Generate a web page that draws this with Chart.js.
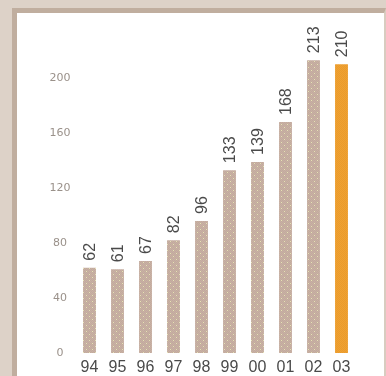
<!DOCTYPE html>
<html>
<head>
<meta charset="utf-8">
<script src="https://cdn.jsdelivr.net/npm/chart.js@4/dist/chart.umd.min.js"></script>
<style>
  html, body { margin: 0; padding: 0; }
  body { width: 386px; height: 376px; background: #ddd2c8; position: relative; overflow: hidden; }
  #panel {
    position: absolute; left: 12px; top: 8px; right: 0; bottom: -10px;
    background: #fff;
    border-left: 5px solid #c0ae9f;
    border-top: 5px solid #c0ae9f;
    border-right: 2px solid #d8ccc0;
  }
  #chart { position: absolute; left: 0; top: 0; }
</style>
</head>
<body>
<div id="panel"></div>
<canvas id="chart" width="386" height="376"></canvas>
<script>
// years and values (last year highlighted)
var years = ['94', '95', '96', '97', '98', '99', '00', '01', '02', '03'];
var values = [62, 61, 67, 82, 96, 133, 139, 168, 213, 210];
var yTicks = [0, 40, 80, 120, 160, 200];

// small dotted fill like the printed bars
function dotted(base, shade, dot) {
    var c = document.createElement('canvas');
    c.width = 6; c.height = 6;
    var g = c.getContext('2d');
    g.fillStyle = base;
    g.fillRect(0, 0, 6, 6);
    g.fillStyle = shade;
    for (var y = 0; y < 6; y++) {
        for (var x = (y % 2); x < 6; x += 2) g.fillRect(x, y, 1, 1);
    }
    if (dot) {
        g.fillStyle = dot;
        g.fillRect(2, 1, 1, 1);
        g.fillRect(5, 4, 1, 1);
    }
    return g.createPattern(c, 'repeat');
}

var ctx = document.getElementById('chart').getContext('2d');
var tan = dotted('#c9b1a3', '#c2aa9e', '#e6e3b4');
var orange = dotted('#f0a232', '#e99a2c', null);
var colors = values.map(function (v, i) { return i === values.length - 1 ? orange : tan; });

// rotated value labels above each bar
var valueLabels = {
    id: 'valueLabels',
    afterDatasetsDraw: function (chart) {
        var c = chart.ctx;
        var meta = chart.getDatasetMeta(0);
        c.save();
        c.font = '16px "Liberation Sans", Arial, sans-serif';
        c.fillStyle = '#4a4a4a';
        c.textAlign = 'left';
        c.textBaseline = 'middle';
        meta.data.forEach(function (bar, i) {
            c.save();
            c.translate(bar.x + 1, bar.y - 7);
            c.rotate(-Math.PI / 2);
            c.fillText(String(values[i]), 0, 0);
            c.restore();
        });
        c.restore();
    }
};

new Chart(ctx, {
    type: 'bar',
    data: {
        labels: years,
        datasets: [{
            data: values,
            backgroundColor: colors,
            borderWidth: 0,
            barPercentage: 0.46,
            categoryPercentage: 1
        }]
    },
    options: {
        responsive: false,
        animation: false,
        layout: { padding: { left: 0, right: 30.5, top: 23, bottom: 0 } },
        plugins: { legend: { display: false }, tooltip: { enabled: false } },
        scales: {
            x: {
                grid: { display: false },
                border: { display: false },
                ticks: {
                    color: '#4a4a4a',
                    font: { family: '"Liberation Sans", Arial, sans-serif', size: 16 },
                    padding: -3,
                    maxRotation: 0
                },
                afterFit: function (s) { s.height = 23; }
            },
            y: {
                min: 0,
                max: 240,
                grid: { display: false },
                border: { display: false },
                afterBuildTicks: function (s) {
                    s.ticks = yTicks.map(function (v) { return { value: v }; });
                },
                ticks: {
                    color: '#9a918a',
                    font: { family: '"DejaVu Sans", sans-serif', size: 11 },
                    crossAlign: 'center',
                    padding: -3
                },
                afterFit: function (s) { s.width = 75.5; }
            }
        }
    },
    plugins: [valueLabels]
});
</script>
</body>
</html>
